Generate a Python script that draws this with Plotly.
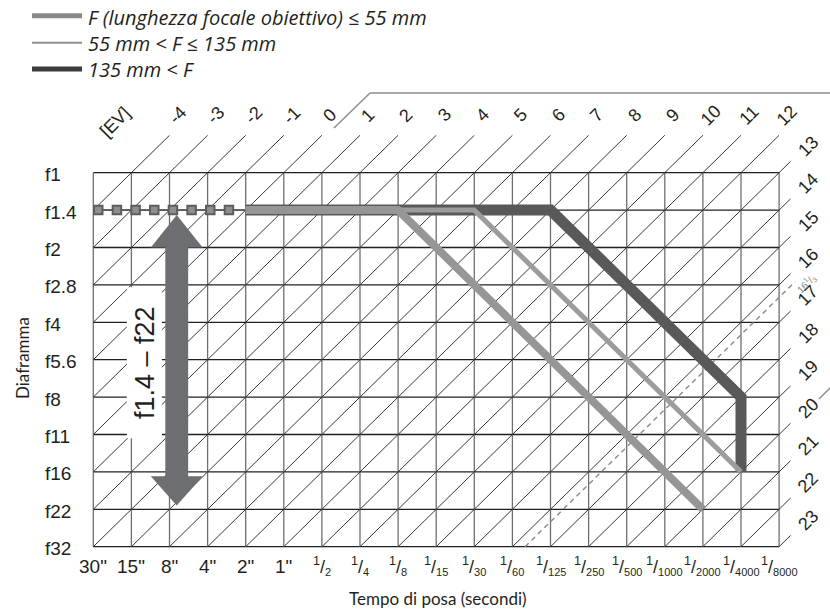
import plotly.graph_objects as go

# ---- data ----
shutter_labels = ['30"', '15"', '8"', '4"', '2"', '1"', '1/2', '1/4', '1/8', '1/15',
                  '1/30', '1/60', '1/125', '1/250', '1/500', '1/1000', '1/2000',
                  '1/4000', '1/8000']
aperture_labels = ['f1', 'f1.4', 'f2', 'f2.8', 'f4', 'f5.6', 'f8', 'f11', 'f16',
                   'f22', 'f32']
ev_top = [-4, -3, -2, -1, 0, 1, 2, 3, 4, 5, 6, 7, 8, 9, 10, 11, 12]
ev_right = [13, 14, 15, 16, 17, 18, 19, 20, 21, 22, 23]
ev_limit = 16.333          # dashed line "16 1/3"
EV_AT_ORIGIN = -5          # EV at 30" / f1

# program lines: (shutter, aperture) vertices
prog_short_shutter = ['2"', '1/8', '1/2000']
prog_short_aperture = ['f1.4', 'f1.4', 'f22']
prog_mid_shutter = ['2"', '1/30', '1/4000']
prog_mid_aperture = ['f1.4', 'f1.4', 'f16']
prog_long_shutter = ['2"', '1/125', '1/4000', '1/4000']
prog_long_aperture = ['f1.4', 'f1.4', 'f8', 'f16']

# slow-speed dotted part (square markers, in shutter steps from 30")
slow_steps = [0.13, 0.62, 1.11, 1.60, 2.09, 2.58, 3.07, 3.56]
slow_aperture = 'f1.4'
arrow_apertures = ['f1.4', 'f22']

COLORS = {
    'ink': '#231f20',
    'vgrid': '#6f6f6f',
    'short': '#959698',
    'mid': '#9b9c9e',
    'long': '#58595b',
    'arrow': '#6d6e71',
    'frame': '#8c8c8c',
    'dash': '#8a8a8a',
}

# ---- pixel layout of the grid ----
W, H = 830, 613
GX0, GY0 = 93.3, 172.7
CW, CH = 38.1, 37.4


def xu(px):
    return (px - GX0) / CW


def yu(py):
    return (py - GY0) / CH


si = {s: i for i, s in enumerate(shutter_labels)}
ai = {a: j for j, a in enumerate(aperture_labels)}
nx = len(shutter_labels) - 1
ny = len(aperture_labels) - 1

fig = go.Figure()


def add_segments(segs, color, width, dash=None):
    xs, ys = [], []
    for (x0, y0), (x1, y1) in segs:
        xs += [x0, x1, None]
        ys += [y0, y1, None]
    fig.add_trace(go.Scatter(x=xs, y=ys, mode='lines', hoverinfo='skip',
                             line=dict(color=color, width=width, dash=dash)))


# grid
add_segments([((0, j), (nx, j)) for j in range(ny + 1)], COLORS['ink'], 1.3)
add_segments([((i, 0), (i, ny)) for i in range(nx + 1)], COLORS['vgrid'], 1.3)

diag = []
for k in range(1, nx + ny + 1):
    j0 = min(ny, k)
    start = (k - j0, j0)
    if k < nx:
        end = (k + 1, -1)
    else:
        end = (nx + 0.3, k - nx - 0.3)
    diag.append((start, end))
add_segments(diag, COLORS['ink'], 0.9)

kd = ev_limit - EV_AT_ORIGIN
add_segments([((kd - ny, ny), (nx + 0.42, kd - nx - 0.42))], COLORS['dash'], 1.4,
             dash='5px,4px')

# white box behind the range label
bx0, bx1, by0, by1 = 0.88, 1.80, 3.06, 7.1
fig.add_trace(go.Scatter(x=[bx0, bx1, bx1, bx0, bx0], y=[by0, by0, by1, by1, by0],
                         mode='lines', fill='toself', fillcolor='white',
                         line=dict(width=0), hoverinfo='skip'))

# double arrow f1.4 - f22
ac = 2.19
top = ai[arrow_apertures[0]] + 0.13
bot = ai[arrow_apertures[1]] - 0.1
hw, sw, hl = 0.68, 0.30, 0.87
ax = [ac, ac + hw, ac + sw, ac + sw, ac + hw, ac, ac - hw, ac - sw, ac - sw, ac - hw, ac]
ay = [top, top + hl, top + hl, bot - hl * 0.9, bot - hl * 0.9, bot, bot - hl * 0.9,
      bot - hl * 0.9, top + hl, top + hl, top]
fig.add_trace(go.Scatter(x=ax, y=ay, mode='lines', fill='toself',
                         fillcolor=COLORS['arrow'], line=dict(width=0),
                         hoverinfo='skip'))

# slow speed dotted segment
fig.add_trace(go.Scatter(x=[0, si[prog_short_shutter[0]]],
                         y=[ai[slow_aperture]] * 2, mode='lines',
                         line=dict(color=COLORS['long'], width=1.8),
                         hoverinfo='skip'))
fig.add_trace(go.Scatter(x=slow_steps, y=[ai[slow_aperture]] * len(slow_steps),
                         mode='markers', hoverinfo='skip',
                         marker=dict(symbol='square', size=8.5, color='#8d8e90',
                                     line=dict(color='#5c5d5f', width=2))))

# program lines
for sh, ap, color, width in [
    (prog_long_shutter, prog_long_aperture, COLORS['long'], 11),
    (prog_mid_shutter, prog_mid_aperture, COLORS['mid'], 5),
    (prog_short_shutter, prog_short_aperture, COLORS['short'], 8),
]:
    fig.add_trace(go.Scatter(x=[si[s] for s in sh], y=[ai[a] for a in ap],
                             mode='lines', hoverinfo='skip',
                             line=dict(color=color, width=width)))

# decorative frame line
add_segments([((xu(334), yu(128)), (xu(370), yu(93))),
              ((xu(370), yu(93)), (xu(835), yu(93))),
              ((xu(819), yu(399)), (xu(834), yu(384)))], COLORS['frame'], 1.5)

# legend samples
add_segments([((xu(32), yu(15.8)), (xu(82), yu(15.8)))], '#8a8a8a', 5)
add_segments([((xu(32), yu(42.7)), (xu(82), yu(42.7)))], '#909090', 2)
add_segments([((xu(32), yu(69)), (xu(82), yu(69)))], '#3d3d3d', 5)

TICK_FONT = dict(family='Liberation Sans, Arial, sans-serif', size=19, color=COLORS['ink'])
TEXT_FONT = dict(family='Lato, Open Sans, sans-serif', size=17, color=COLORS['ink'])
LEGEND_FONT = dict(family='Open Sans, Lato, sans-serif', size=20, color=COLORS['ink'])

ann = []
for i, s in enumerate(shutter_labels):
    font = TICK_FONT
    if '/' in s:
        n, d = s.split('/')
        s = ('<sup>%s</sup>/<sub><span style="font-size:11px">%s</span></sub>'
             % (n, d))
        font = dict(TICK_FONT, size=18)
    ann.append(dict(x=i, y=yu(566), text=s, showarrow=False, font=font))
for j, a in enumerate(aperture_labels):
    ann.append(dict(x=xu(43), y=j, text=a, xanchor='left', showarrow=False,
                    font=TICK_FONT, yshift=-2))
for ev in ev_top:
    k = ev - EV_AT_ORIGIN
    ann.append(dict(x=k + 1.22, y=-1.53, text=str(ev), textangle=-45,
                    showarrow=False, font=dict(TICK_FONT, size=18)))
for ev in ev_right:
    k = ev - EV_AT_ORIGIN
    ann.append(dict(x=nx + 0.77, y=k - nx - 0.72, text=str(ev), textangle=-45,
                    showarrow=False, font=dict(TICK_FONT, size=18)))
ann.append(dict(x=0.57, y=-1.36, text='[EV]', textangle=-45, showarrow=False,
                font=dict(TICK_FONT, size=18)))
ann.append(dict(x=nx + 0.71, y=kd - nx - 0.38, text='16<sup>1</sup>/<sub>3</sub>',
                textangle=-45, showarrow=False,
                font=dict(TICK_FONT, size=10, color=COLORS['dash'])))
ann.append(dict(x=(bx0 + bx1) / 2, y=(by0 + by1) / 2, text='f1.4 – f22',
                textangle=-90, showarrow=False, font=dict(TICK_FONT, size=27)))
ann.append(dict(x=xu(22), y=yu(358), text='Diaframma', textangle=-90,
                showarrow=False, font=TEXT_FONT))
ann.append(dict(x=xu(438), y=yu(598), text='Tempo di posa (secondi)',
                showarrow=False, font=TEXT_FONT))
for y, t in [(17, 'F (lunghezza focale obiettivo) ≤ 55 mm'),
             (43, '55 mm < F ≤ 135 mm'),
             (69, '135 mm < F')]:
    ann.append(dict(x=xu(86), y=yu(y), text='<i>%s</i>' % t, xanchor='left',
                    showarrow=False, font=LEGEND_FONT))

fig.update_layout(
    width=W, height=H,
    margin=dict(l=0, r=0, t=0, b=0),
    showlegend=False,
    plot_bgcolor='white',
    paper_bgcolor='white',
    annotations=ann,
)
fig.update_xaxes(range=[xu(0), xu(W)], visible=False)
fig.update_yaxes(range=[yu(H), yu(0)], visible=False)

# page body has a default margin; remove it so the figure sits at the corner
fig.write_html("out.html", config={'displayModeBar': False},
               post_script="document.body.style.margin='0px';")
